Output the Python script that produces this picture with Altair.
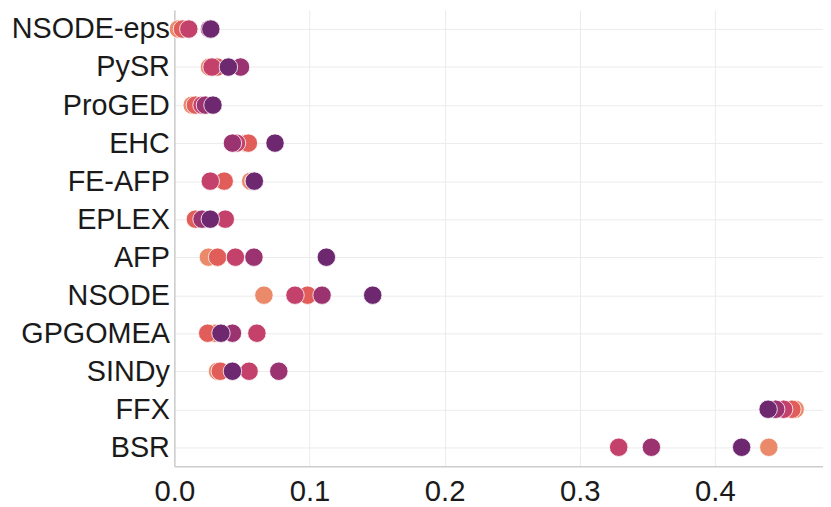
import altair as alt
import pandas as pd

methods = ["NSODE-eps", "PySR", "ProGED", "EHC", "FE-AFP", "EPLEX", "AFP",
           "NSODE", "GPGOMEA", "SINDy", "FFX", "BSR"]
series = ["s1", "s2", "s3", "s4", "s5"]
colors = ["#EB8A6A", "#E15D59", "#C3416A", "#9B3371", "#6E2870"]

# values per series, in the order of `methods`
s1 = [0.003, 0.026, 0.0132, 0.053, 0.0565, 0.018, 0.0252, 0.0663, 0.030, 0.032, 0.4594, 0.4399]
s2 = [0.006, 0.0316, 0.0156, 0.0548, 0.0369, 0.0156, 0.032, 0.0986, 0.0247, 0.0340, 0.457, 0.329]
s3 = [0.0107, 0.0279, 0.0205, 0.046, 0.0266, 0.0377, 0.0452, 0.0893, 0.0611, 0.0553, 0.4509, 0.3288]
s4 = [0.026, 0.049, 0.023, 0.043, 0.059, 0.0205, 0.0589, 0.1093, 0.043, 0.0773, 0.445, 0.353]
s5 = [0.027, 0.040, 0.0286, 0.0745, 0.0592, 0.0266, 0.1125, 0.1468, 0.0345, 0.043, 0.4394, 0.4198]

rows = []
for name, vals in zip(series, [s1, s2, s3, s4, s5]):
    for m, v in zip(methods, vals):
        rows.append({"method": m, "series": name, "value": v})
df = pd.DataFrame(rows)

font = "Liberation Sans"

chart = alt.Chart(df).mark_circle(
    size=345, opacity=1, stroke="white", strokeWidth=0.8
).encode(
    x=alt.X("value:Q",
            scale=alt.Scale(domain=[0, 0.48], nice=False, zero=True),
            axis=alt.Axis(values=[0, 0.1, 0.2, 0.3, 0.4], format=".1f", title=None,
                          ticks=False, labelFontSize=29.5, labelFont=font,
                          labelColor="#1a1a1a", labelPadding=12,
                          gridColor="#EBEBEB", gridWidth=1,
                          domainColor="#CCCCCC", domainWidth=1.5,
                          labelFlush=False)),
    y=alt.Y("method:N", sort=methods,
            scale=alt.Scale(paddingInner=0, paddingOuter=0),
            axis=alt.Axis(title=None, ticks=False, labelFontSize=29, labelFont=font,
                          labelColor="#1a1a1a", labelPadding=5,
                          gridColor="#EBEBEB", gridWidth=1,
                          domainColor="#CCCCCC", domainWidth=1.5,
                          labelLimit=300)),
    color=alt.Color("series:N", scale=alt.Scale(domain=series, range=colors),
                    legend=None),
).properties(
    width=654, height=460,
    autosize=alt.AutoSizeParams(type="none"),
    padding={"left": 167.7, "top": 0, "right": 0, "bottom": 39},
).configure_view(stroke=None).configure_axis(grid=True)

chart.save("out.html", embed_options={"renderer": "svg", "actions": False})
